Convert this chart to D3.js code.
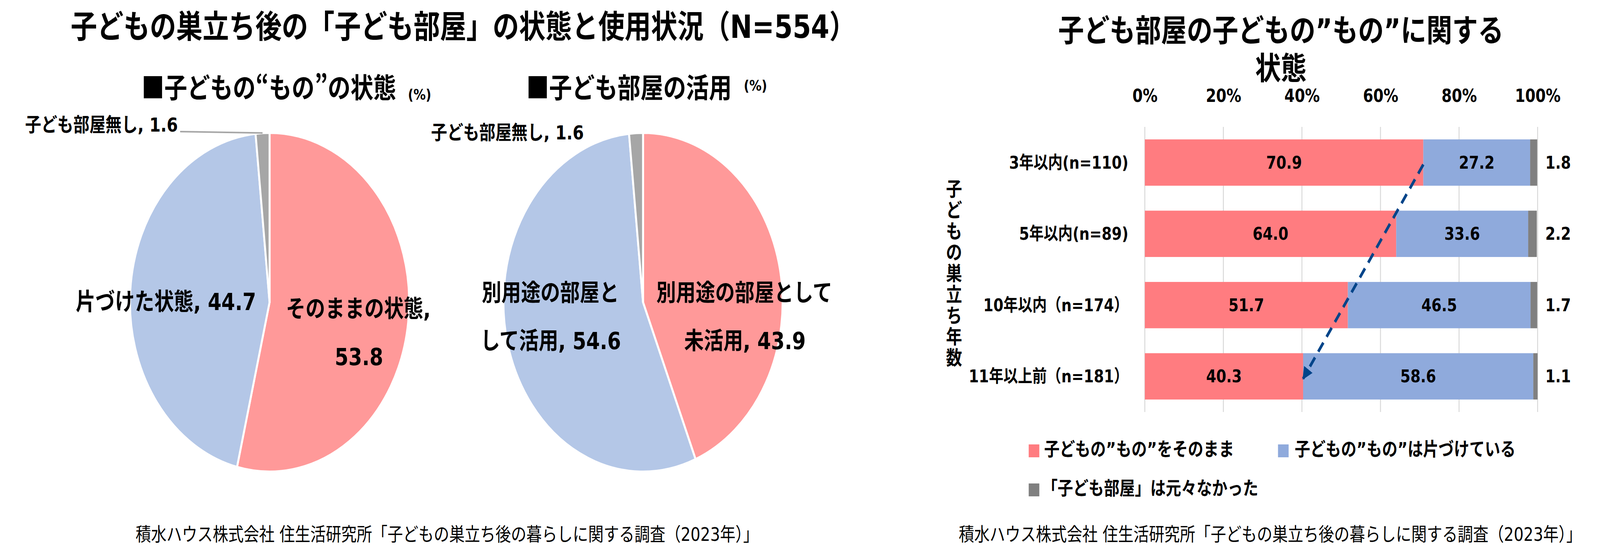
<!DOCTYPE html>
<html lang="ja">
<head>
<meta charset="utf-8">
<script src="https://cdn.jsdelivr.net/npm/d3@7/dist/d3.min.js"></script>
<style>
  html, body { margin: 0; padding: 0; background: #ffffff; overflow: hidden; width: 100%; height: 100%; }
  svg { display: block; width: 100vw; height: 100vh; }
  text { font-family: "DejaVu Sans", "Noto Sans CJK JP", sans-serif; fill: #000; }
  .cjk { font-family: "Noto Sans CJK JP", "DejaVu Sans", sans-serif; }
</style>
</head>
<body>
<svg id="chart" viewBox="0 0 4974 1434" preserveAspectRatio="none"></svg>
<script>
// ---------------- DATA ----------------
const mainTitle = "子どもの巣立ち後の「子ども部屋」の状態と使用状況（N=554）";
const footerText = "積水ハウス株式会社 住生活研究所「子どもの巣立ち後の暮らしに関する調査（2023年）」";

// Pie 1: 子どもの"もの"の状態 (%)
const pie1Title = "■子どもの“もの”の状態";
const pie1Labels = ["そのままの状態", "片づけた状態", "子ども部屋無し"];
const pie1Values = [53.8, 44.7, 1.6];

// Pie 2: 子ども部屋の活用 (%)
const pie2Title = "■子ども部屋の活用";
const pie2Labels = ["別用途の部屋として未活用", "別用途の部屋として活用", "子ども部屋無し"];
const pie2Values = [43.9, 54.6, 1.6];

const pieColors = ["#FF9999", "#B4C7E7", "#A6A6A6"];

// Bar chart
const barTitle = ["子ども部屋の子どもの”もの”に関する", "状態"];
const barCategories = ["3年以内(n=110)", "5年以内(n=89)", "10年以内（n=174）", "11年以上前（n=181）"];
const keepValues  = [70.9, 64.0, 51.7, 40.3];
const tidyValues  = [27.2, 33.6, 46.5, 58.6];
const noneValues  = [1.8, 2.2, 1.7, 1.1];
const seriesNames = ["子どもの”もの”をそのまま", "子どもの”もの”は片づけている", "「子ども部屋」は元々なかった"];
const barColors = ["#FF7C80", "#8FAADC", "#808080"];
const xTicks = [0, 20, 40, 60, 80, 100];
const yAxisTitle = "子どもの巣立ち年数";

// ---------------- DRAW ----------------
const svg = d3.select("#chart");
svg.append("rect").attr("width", 4974).attr("height", 1434).attr("fill", "#fff");

// Main title
svg.append("text").attr("x", 1440).attr("y", 69)
  .attr("text-anchor", "middle").attr("dominant-baseline", "central")
  .attr("font-size", 82).attr("font-weight", "bold").text(mainTitle);

// Footers
[1390, 3949].forEach(cx => {
  svg.append("text").attr("x", cx).attr("y", 1368)
    .attr("text-anchor", "middle").attr("dominant-baseline", "central")
    .attr("font-size", 48).text(footerText);
});

// Pie subtitles
function subtitle(x, y, txt, px, py) {
  svg.append("text").attr("class", "cjk").attr("x", x).attr("y", y)
    .attr("dominant-baseline", "central").attr("font-size", 71).attr("font-weight", "bold")
    .attr("fill", "#262626").text(txt);
  svg.append("text").attr("x", px).attr("y", py)
    .attr("dominant-baseline", "central").attr("font-size", 38).attr("font-weight", "bold")
    .attr("fill", "#262626").text("(%)");
}
subtitle(440, 219, pie1Title, 1268, 242);
subtitle(1636, 219, pie2Title, 2312, 219);

// Pies
const R = 434;
const pieGen = d3.pie().sort(null).value(d => d);
const arcGen = d3.arc().innerRadius(0).outerRadius(R);

function drawPie(cx, cy, values) {
  const g = svg.append("g").attr("transform", `translate(${cx},${cy})`);
  const arcs = pieGen(values);
  g.selectAll("path").data(arcs).enter().append("path")
    .attr("d", arcGen)
    .attr("fill", (d, i) => pieColors[i])
    .attr("stroke", "#fff").attr("stroke-width", 6).attr("stroke-linejoin", "round");
  return arcs;
}
const arcs1 = drawPie(838, 774, pie1Values);
const arcs2 = drawPie(1999, 774, pie2Values);

function label(x, y, txt, size, anchor) {
  svg.append("text").attr("x", x).attr("y", y)
    .attr("text-anchor", anchor || "middle").attr("dominant-baseline", "central")
    .attr("font-size", size).attr("font-weight", "bold").text(txt);
}
const fmt = d3.format(".1f");

// Pie 1 labels
label(516, 773, `${pie1Labels[1]}, ${fmt(pie1Values[1])}`, 61);
label(1114, 791, `${pie1Labels[0]},`, 61);
label(1116, 914, fmt(pie1Values[0]), 61);
label(78, 320, `${pie1Labels[2]}, ${fmt(pie1Values[2])}`, 50, "start");
// leader line to the grey slice edge
{
  const a = (arcs1[2].startAngle + arcs1[2].endAngle) / 2;
  const ex = 838 + R * Math.sin(a), ey = 774 - R * Math.cos(a);
  svg.append("line").attr("x1", 560).attr("y1", 337).attr("x2", ex).attr("y2", ey)
    .attr("stroke", "#A6A6A6").attr("stroke-width", 4);
}

// Pie 2 labels
label(1711, 750, "別用途の部屋と", 61);
label(1712, 873, `して活用, ${fmt(pie2Values[1])}`, 61);
label(2314, 750, "別用途の部屋として", 61);
label(2316, 873, `未活用, ${fmt(pie2Values[0])}`, 61);
label(1340, 340, `${pie2Labels[2]}, ${fmt(pie2Values[2])}`, 50, "start");

// ---------------- Bar chart ----------------
const x = d3.scaleLinear().domain([0, 100]).range([3559, 4780]);
const y = d3.scaleBand().domain(barCategories).range([325, 1055]).paddingInner(0.35).paddingOuter(0.175);

barTitle.forEach((t, i) => {
  svg.append("text").attr("x", 3982).attr("y", 78 + i * 97)
    .attr("text-anchor", "middle").attr("dominant-baseline", "central")
    .attr("font-size", 80).attr("font-weight", "bold").text(t);
});

// gridlines
svg.append("g").selectAll("line").data(xTicks).enter().append("line")
  .attr("x1", d => x(d)).attr("x2", d => x(d)).attr("y1", 325).attr("y2", 1055)
  .attr("stroke", "#D9D9D9").attr("stroke-width", 3);

// top axis tick labels
const xAxis = d3.axisTop(x).tickValues(xTicks).tickFormat(d => d + "%").tickSize(0).tickPadding(0);
const axG = svg.append("g").attr("transform", "translate(0,245)").call(xAxis);
axG.select(".domain").remove();
axG.selectAll("text").attr("font-size", 46).attr("font-weight", "bold")
  .attr("dominant-baseline", "central").attr("dy", null)
  .style("font-family", '"DejaVu Sans", "Noto Sans CJK JP", sans-serif').attr("fill", "#000");

// stacked bars
const rows = barCategories.map((c, i) => ({ cat: c, vals: [keepValues[i], tidyValues[i], noneValues[i]] }));
const segs = [];
rows.forEach(r => {
  let acc = 0;
  r.vals.forEach((v, k) => { segs.push({ cat: r.cat, k, v, x0: acc, x1: acc + v }); acc += v; });
});
svg.append("g").selectAll("rect").data(segs).enter().append("rect")
  .attr("x", d => x(d.x0)).attr("width", d => x(Math.min(d.x1, 100)) - x(d.x0))
  .attr("y", d => y(d.cat)).attr("height", y.bandwidth())
  .attr("fill", d => barColors[d.k]);

// value labels
svg.append("g").selectAll("text").data(segs).enter().append("text")
  .attr("x", d => d.k < 2 ? x((d.x0 + d.x1) / 2) : x(100) + 24)
  .attr("y", d => y(d.cat) + y.bandwidth() / 2)
  .attr("text-anchor", d => d.k < 2 ? "middle" : "start")
  .attr("dominant-baseline", "central")
  .attr("font-size", 45).attr("font-weight", "bold")
  .text(d => fmt(d.v));

// category labels
svg.append("g").selectAll("text").data(barCategories).enter().append("text")
  .attr("x", 3508).attr("y", d => y(d) + y.bandwidth() / 2)
  .attr("text-anchor", "end").attr("dominant-baseline", "central")
  .attr("font-size", 45).attr("font-weight", "bold").text(d => d);

// y-axis title, upright vertical
const chars = Array.from(yAxisTitle);
svg.append("g").selectAll("text").data(chars).enter().append("text")
  .attr("x", 2966).attr("y", (d, i) => 485 + i * 54)
  .attr("text-anchor", "middle").attr("dominant-baseline", "central")
  .attr("font-size", 50).attr("font-weight", "bold").text(d => d);

// dashed trend arrow
const defs = svg.append("defs");
defs.append("marker").attr("id", "arrowhead").attr("viewBox", "0 0 10 10")
  .attr("refX", 9).attr("refY", 5).attr("markerWidth", 4).attr("markerHeight", 4)
  .attr("orient", "auto").attr("markerUnits", "strokeWidth")
  .append("path").attr("d", "M0,0 L10,5 L0,10 Z").attr("fill", "#004489");
const yc = c => y(c) + y.bandwidth() / 2;
svg.append("line")
  .attr("x1", x(keepValues[0])).attr("y1", yc(barCategories[0]) + 5)
  .attr("x2", x(keepValues[3])).attr("y2", yc(barCategories[3]) + 6)
  .attr("stroke", "#004489").attr("stroke-width", 8)
  .attr("stroke-dasharray", "28,18").attr("marker-end", "url(#arrowhead)");

// legend
const legendItems = [
  { name: seriesNames[0], color: barColors[0], sx: 3198, tx: 3246, cy: 1150 },
  { name: seriesNames[1], color: barColors[1], sx: 3973, tx: 4025, cy: 1150 },
  { name: seriesNames[2], color: barColors[2], sx: 3198, tx: 3240, cy: 1250 }
];
const lg = svg.append("g").selectAll("g").data(legendItems).enter().append("g");
lg.append("rect").attr("x", d => d.sx).attr("y", d => d.cy - 12).attr("width", 33).attr("height", 33)
  .attr("fill", d => d.color);
lg.append("text").attr("x", d => d.tx).attr("y", d => d.cy)
  .attr("dominant-baseline", "central").attr("font-size", 48).attr("font-weight", "bold")
  .text(d => d.name);
</script>
</body>
</html>
